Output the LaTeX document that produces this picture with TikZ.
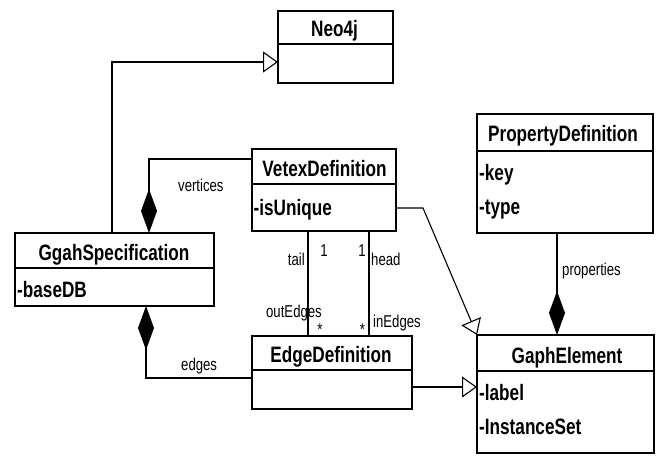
\documentclass[tikz,border=0pt]{standalone}
\usepackage{fontspec}
\setmainfont{Liberation Sans}[FakeStretch=0.77]
\usetikzlibrary{arrows.meta,calc}
\begin{document}
\begin{tikzpicture}[x=1pt,y=-1pt,
  umlbox/.style={draw=black, line width=1.1pt, fill=white, inner sep=0pt, outer sep=0pt, anchor=north west},
  clstitle/.style={font=\fontsize{22.3}{25}\selectfont\bfseries, inner sep=0pt, anchor=base},
  clsattr/.style={font=\fontsize{22.3}{25}\selectfont\bfseries, inner sep=0pt, anchor=base west},
  lbl/.style={font=\fontsize{17.1}{20}\selectfont, inner sep=0pt},
  sep/.style={line width=1.1pt, draw=black},
  link/.style={line width=1.1pt, draw=black},
  gen/.style={link, -{Triangle[open, length=15pt, width=21pt, fill=white]}},
  comp/.style={link, -{Diamond[length=44pt, width=16pt]}},
]
\useasboundingbox[fill=white] (0,0) rectangle (658,455);

% class boxes
\node[umlbox, minimum width=115pt, minimum height=72pt] (neo) at (278,11) {};
\draw[sep] ([yshift=-33pt]neo.north west) -- ([yshift=-33pt]neo.north east);
\node[clstitle] (neot) at (334.5,36) {Neo4j};

\node[umlbox, minimum width=144pt, minimum height=82pt] (vd) at (252,149) {};
\draw[sep] ([yshift=-35pt]vd.north west) -- ([yshift=-35pt]vd.north east);
\node[clstitle] (vdt) at (324.5,176.5) {VetexDefinition};
\node[clsattr] (vda) at (253.5,215) {-isUnique};

\node[umlbox, minimum width=199pt, minimum height=73pt] (gs) at (15,233) {};
\draw[sep] ([yshift=-35pt]gs.north west) -- ([yshift=-35pt]gs.north east);
\node[clstitle] (gst) at (114,260) {GgahSpecification};
\node[clsattr] (gsa) at (17,297) {-baseDB};

\node[umlbox, minimum width=160pt, minimum height=73pt] (ed) at (252,336) {};
\draw[sep] ([yshift=-34pt]ed.north west) -- ([yshift=-34pt]ed.north east);
\node[clstitle] (edt) at (331,362.5) {EdgeDefinition};

\node[umlbox, minimum width=176pt, minimum height=119pt] (pd) at (477,114) {};
\draw[sep] ([yshift=-37pt]pd.north west) -- ([yshift=-37pt]pd.north east);
\node[clstitle] (pdt) at (563,141.5) {PropertyDefinition};
\node[clsattr] (pda) at (479,180) {-key};
\node[clsattr] (pdb) at (479,214) {-type};

\node[umlbox, minimum width=177pt, minimum height=118pt] (ge) at (477,335) {};
\draw[sep] ([yshift=-36pt]ge.north west) -- ([yshift=-36pt]ge.north east);
\node[clstitle] (get) at (567,363) {GaphElement};
\node[clsattr] (gea) at (479,400) {-label};
\node[clsattr] (geb) at (479,434) {-InstanceSet};

% relations
\draw[gen] ([xshift=97pt]gs.north west) |- ([yshift=-51pt]neo.north west);
\draw[comp] ([yshift=-10pt]vd.north west) -| ([xshift=134pt]gs.north west);
\draw[comp] ([yshift=-42pt]ed.north west) -| ([xshift=131pt]gs.south west);
\draw[link] ([xshift=56pt]vd.south west) -- ([xshift=56pt]ed.north west);
\draw[link] ([xshift=117pt]vd.south west) -- ([xshift=117pt]ed.north west);
\draw[gen] ([yshift=-59pt]vd.north east) -- ++(27,0) -- (ge.north west);
\draw[gen] ([yshift=-51pt]ed.north east) -- ([yshift=-52pt]ge.north west);
\draw[comp] ([xshift=80pt]pd.south west) -- ([xshift=80pt]ge.north west);

% role names and multiplicities
\node[lbl, anchor=base west] (lv) at (178,191.5) {vertices};
\node[lbl, anchor=base west] (le) at (181,370) {edges};
\node[lbl, anchor=base west] (lp) at (562,275) {properties};
\node[lbl, anchor=base east] (lt) at (305,265) {tail};
\node[lbl, anchor=base] (m1) at (324,256.5) {1};
\node[lbl, anchor=base] (m2) at (362,256.5) {1};
\node[lbl, anchor=base west] (lh) at (371,265) {head};
\node[lbl, anchor=base east] (lo) at (322,317.5) {outEdges};
\node[lbl, anchor=base west] (li) at (373,327.5) {inEdges};
\node[lbl, anchor=base] (s1) at (320,335) {*};
\node[lbl, anchor=base] (s2) at (362.5,335) {*};
\end{tikzpicture}
\end{document}
